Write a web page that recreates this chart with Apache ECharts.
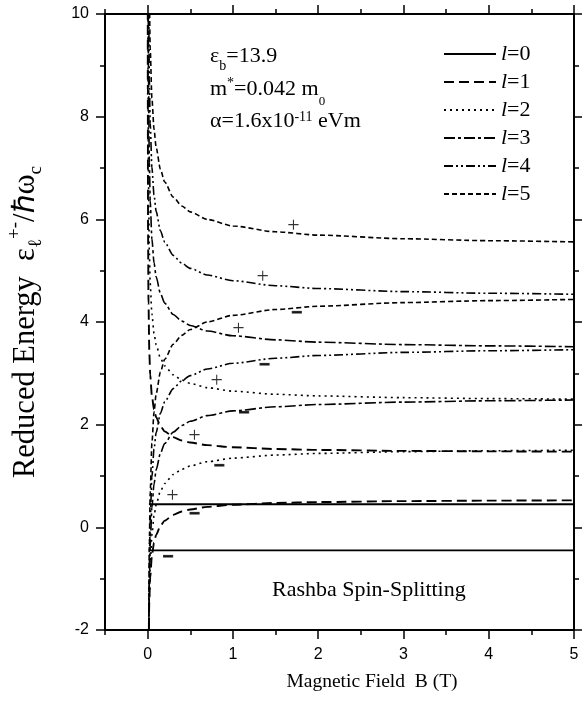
<!DOCTYPE html>
<html>
<head>
<meta charset="utf-8">
<script src="https://cdn.jsdelivr.net/npm/echarts@6/dist/echarts.min.js"></script>
<style>
  html, body { margin: 0; padding: 0; background: #fff; }
  #chart { width: 582px; height: 706px; }
</style>
</head>
<body>
<div id="chart"></div>
<script>
// Magnetic field samples (T) shared by the l = 1..5 branches
const fieldB = [0.001, 0.002, 0.005, 0.01, 0.02, 0.03, 0.05, 0.075, 0.1, 0.15, 0.2,
                0.3, 0.4, 0.5, 0.7, 1.0, 1.5, 2.0, 3.0, 4.0, 5.0];

// l = 0 is flat at +/-0.45
const fieldB0 = [0.015, 5.0];
const level0Plus  = [0.45, 0.45];
const level0Minus = [-0.45, -0.45];

// Reduced energies, upper (+) and lower (-) Rashba branches
const level1Plus  = [11.545, 8.463, 5.733, 4.362, 3.398, 2.975, 2.556, 2.297, 2.146, 1.971, 1.870, 1.757, 1.693, 1.652, 1.601, 1.560, 1.526, 1.508, 1.489, 1.480, 1.474];
const level1Minus = [-9.545, -6.463, -3.733, -2.362, -1.398, -0.975, -0.556, -0.297, -0.146, 0.029, 0.130, 0.243, 0.307, 0.348, 0.399, 0.440, 0.474, 0.492, 0.511, 0.520, 0.526];
const level2Plus  = [16.907, 12.545, 8.679, 6.733, 5.362, 4.757, 4.155, 3.778, 3.556, 3.297, 3.146, 2.971, 2.870, 2.804, 2.721, 2.652, 2.592, 2.560, 2.526, 2.508, 2.497];
const level2Minus = [-12.907, -8.545, -4.679, -2.733, -1.362, -0.757, -0.155, 0.222, 0.444, 0.703, 0.854, 1.029, 1.130, 1.196, 1.279, 1.348, 1.408, 1.440, 1.474, 1.492, 1.503];
const level3Plus  = [21.254, 15.911, 11.173, 8.788, 7.105, 6.362, 5.620, 5.155, 4.880, 4.556, 4.367, 4.146, 4.017, 3.932, 3.824, 3.732, 3.652, 3.607, 3.560, 3.535, 3.519];
const level3Minus = [-15.254, -9.911, -5.173, -2.788, -1.105, -0.362, 0.380, 0.845, 1.120, 1.444, 1.633, 1.854, 1.983, 2.068, 2.176, 2.268, 2.348, 2.393, 2.440, 2.465, 2.481];
const level4Plus  = [25.077, 18.907, 13.434, 10.679, 8.733, 7.873, 7.014, 6.474, 6.155, 5.778, 5.556, 5.297, 5.146, 5.044, 4.915, 4.804, 4.706, 4.652, 4.592, 4.560, 4.540];
const level4Minus = [-17.077, -10.907, -5.434, -2.679, -0.733, 0.127, 0.986, 1.526, 1.845, 2.222, 2.444, 2.703, 2.854, 2.956, 3.085, 3.196, 3.294, 3.348, 3.408, 3.440, 3.460];
const level5Plus  = [28.563, 21.665, 15.545, 12.463, 10.287, 9.325, 8.362, 7.757, 7.398, 6.975, 6.726, 6.433, 6.261, 6.146, 5.998, 5.870, 5.757, 5.693, 5.622, 5.584, 5.560];
const level5Minus = [-18.563, -11.665, -5.545, -2.463, -0.287, 0.675, 1.638, 2.243, 2.602, 3.025, 3.274, 3.567, 3.739, 3.854, 4.002, 4.130, 4.243, 4.307, 4.378, 4.416, 4.440];

const levelNames = ['l=0', 'l=1', 'l=2', 'l=3', 'l=4', 'l=5'];

// Branch markers: position (B, energy) and sign
const signB    = [1.71, 1.35, 1.75, 1.066, 1.37, 0.81, 1.13, 0.55, 0.84, 0.29, 0.55, 0.24];
const signE    = [5.86, 4.87, 4.17, 3.86, 3.16, 2.85, 2.22, 1.78, 1.18, 0.60, 0.26, -0.59];
const signText = ['+', '+', '−', '+', '−', '+', '−', '+', '−', '+', '−', '−'];

// Tick positions
const xMajor = [0, 1, 2, 3, 4, 5];
const xMinor = [-0.5, 0.5, 1.5, 2.5, 3.5, 4.5];
const yMajor = [-2, 0, 2, 4, 6, 8, 10];
const yMinor = [-1, 1, 3, 5, 7, 9];

const SERIF = '"Liberation Serif", "Times New Roman", serif';
const SANS = '"Liberation Sans", Arial, sans-serif';

const dashStyles = [
  { type: 'solid', width: 1.8 },
  { type: [10, 5], width: 1.9 },
  { type: [2, 4], width: 1.6 },
  { type: [11, 3, 3, 3], width: 1.6 },
  { type: [9, 3, 2, 3, 2, 3], width: 1.6 },
  { type: [5, 3], width: 1.6 }
];

const branches = [
  [fieldB0, level0Plus, level0Minus],
  [fieldB, level1Plus, level1Minus],
  [fieldB, level2Plus, level2Minus],
  [fieldB, level3Plus, level3Minus],
  [fieldB, level4Plus, level4Minus],
  [fieldB, level5Plus, level5Minus]
];

const zip = (xs, ys) => xs.map((x, i) => [x, ys[i]]);

const series = [];
branches.forEach(([bs, up, down], l) => {
  [up, down].forEach(vals => {
    series.push({
      type: 'line',
      name: levelNames[l],
      data: zip(bs, vals),
      symbol: 'none',
      showSymbol: false,
      smooth: 0.25,
      smoothMonotone: 'x',
      clip: true,
      color: '#000',
      lineStyle: { color: '#000', width: dashStyles[l].width, type: dashStyles[l].type },
      silent: true
    });
  });
});

series.push({
  type: 'scatter',
  name: 'signs',
  data: signB.map((b, i) => ({ value: [b, signE[i]], name: signText[i] })),
  symbolSize: 2,
  itemStyle: { color: 'transparent' },
  z: 5,
  silent: true,
  label: {
    show: true,
    position: 'inside',
    formatter: p => p.name === '+' ? '{p|+}' : '{m|−}',
    rich: {
      p: { fontFamily: SERIF, fontSize: 22, color: '#000' },
      m: { fontFamily: SERIF, fontSize: 18, color: '#000', textBorderColor: '#000', textBorderWidth: 1.8 }
    }
  }
});

const frameLine = { show: true, onZero: false, lineStyle: { color: '#000', width: 2 } };
const tickStyle = { color: '#000', width: 1.5 };

const xBase = { type: 'value', min: -0.5, max: 5, splitLine: { show: false } };
const yBase = { type: 'value', min: -2, max: 10, interval: 2, splitLine: { show: false } };

const option = {
  animation: false,
  backgroundColor: '#fff',
  grid: { left: 105, right: 8, top: 14, bottom: 76, containLabel: false, outerBoundsMode: 'none' },
  xAxis: [
    Object.assign({}, xBase, {
      position: 'bottom',
      axisLine: frameLine,
      axisTick: { show: true, customValues: xMajor, length: 9, lineStyle: tickStyle },
      axisLabel: { show: true, customValues: xMajor, margin: 17, fontFamily: SANS, fontSize: 16, color: '#000' },
      name: 'Magnetic Field  B (T)',
      nameLocation: 'middle',
      nameGap: 42,
      nameTextStyle: { fontFamily: SERIF, fontSize: 19.5, color: '#000', padding: [0, 0, 0, 65] }
    }),
    Object.assign({}, xBase, {
      position: 'bottom',
      axisLine: { show: false, onZero: false },
      axisTick: { show: true, customValues: xMinor, length: 5, lineStyle: tickStyle },
      axisLabel: { show: false }
    }),
    Object.assign({}, xBase, {
      position: 'top',
      axisLine: frameLine,
      axisTick: { show: true, customValues: xMajor, length: 9, lineStyle: tickStyle },
      axisLabel: { show: false }
    }),
    Object.assign({}, xBase, {
      position: 'top',
      axisLine: { show: false, onZero: false },
      axisTick: { show: true, customValues: xMinor, length: 5, lineStyle: tickStyle },
      axisLabel: { show: false }
    })
  ],
  yAxis: [
    Object.assign({}, yBase, {
      position: 'left',
      axisLine: frameLine,
      axisTick: { show: true, customValues: yMajor, length: 9, lineStyle: tickStyle },
      axisLabel: { show: true, customValues: yMajor, margin: 16, fontFamily: SANS, fontSize: 16, color: '#000' },
      name: 'Reduced Energy  {e|ε}{sb|ℓ}{sp|+-}{e|/ℏω}{sb|c}',
      nameLocation: 'middle',
      nameGap: 59,
      nameTextStyle: {
        fontFamily: SERIF, fontSize: 30.5, color: '#000', lineHeight: 40,
        rich: {
          e: { fontFamily: SERIF, fontSize: 30.5, color: '#000', lineHeight: 40 },
          sb: { fontFamily: SERIF, fontSize: 19, color: '#000', lineHeight: 19, verticalAlign: 'bottom' },
          sp: { fontFamily: SERIF, fontSize: 19, color: '#000', lineHeight: 19, verticalAlign: 'top' }
        }
      }
    }),
    Object.assign({}, yBase, {
      position: 'left',
      axisLine: { show: false, onZero: false },
      axisTick: { show: true, customValues: yMinor, length: 5, lineStyle: tickStyle },
      axisLabel: { show: false }
    }),
    Object.assign({}, yBase, {
      position: 'right',
      axisLine: frameLine,
      axisTick: { show: true, customValues: yMajor, length: 9, lineStyle: tickStyle },
      axisLabel: { show: false }
    }),
    Object.assign({}, yBase, {
      position: 'right',
      axisLine: { show: false, onZero: false },
      axisTick: { show: true, customValues: yMinor, length: 5, lineStyle: tickStyle },
      axisLabel: { show: false }
    })
  ],
  legend: {
    data: levelNames,
    orient: 'vertical',
    left: 438,
    top: 38,
    itemWidth: 52,
    itemHeight: 14,
    itemGap: 6,
    selectedMode: false,
    itemStyle: { opacity: 0, borderWidth: 0 },
    lineStyle: { width: 2 },
    formatter: n => '{i|l}' + n.slice(1),
    textStyle: {
      fontFamily: SERIF, fontSize: 22, color: '#000', lineHeight: 22,
      rich: { i: { fontFamily: SERIF, fontSize: 22, fontStyle: 'italic', color: '#000', lineHeight: 22 } }
    }
  },
  graphic: [
    {
      type: 'text', x: 210, y: 56, silent: true,
      style: {
        text: 'ε{sb|b}=13.9', fill: '#000', fontFamily: SERIF, fontSize: 22, lineHeight: 38,
        verticalAlign: 'middle', align: 'left',
        rich: { sb: { fontFamily: SERIF, fontSize: 14, lineHeight: 14, verticalAlign: 'bottom', padding: [0, 0, 2, 0], fill: '#000' } }
      }
    },
    {
      type: 'text', x: 210, y: 89, silent: true,
      style: {
        text: 'm{sp|*}=0.042 m{sb|0}', fill: '#000', fontFamily: SERIF, fontSize: 22, lineHeight: 38,
        verticalAlign: 'middle', align: 'left',
        rich: {
          sp: { fontFamily: SERIF, fontSize: 14, lineHeight: 14, verticalAlign: 'top', padding: [6, 0, 0, 0], fill: '#000' },
          sb: { fontFamily: SERIF, fontSize: 13, lineHeight: 13, verticalAlign: 'bottom', fill: '#000' }
        }
      }
    },
    {
      type: 'text', x: 210, y: 121, silent: true,
      style: {
        text: 'α=1.6x10{sp|-11} eVm', fill: '#000', fontFamily: SERIF, fontSize: 22, lineHeight: 38,
        verticalAlign: 'middle', align: 'left',
        rich: { sp: { fontFamily: SERIF, fontSize: 14, lineHeight: 14, verticalAlign: 'top', padding: [8, 0, 0, 0], fill: '#000' } }
      }
    },
    {
      type: 'text', x: 272, y: 590.5, silent: true,
      style: {
        text: 'Rashba Spin-Splitting', fill: '#000', fontFamily: SERIF, fontSize: 22,
        verticalAlign: 'middle', align: 'left'
      }
    }
  ],
  series: series
};

const chart = echarts.init(document.getElementById('chart'), null, { renderer: 'canvas' });
chart.setOption(option);
</script>
</body>
</html>
